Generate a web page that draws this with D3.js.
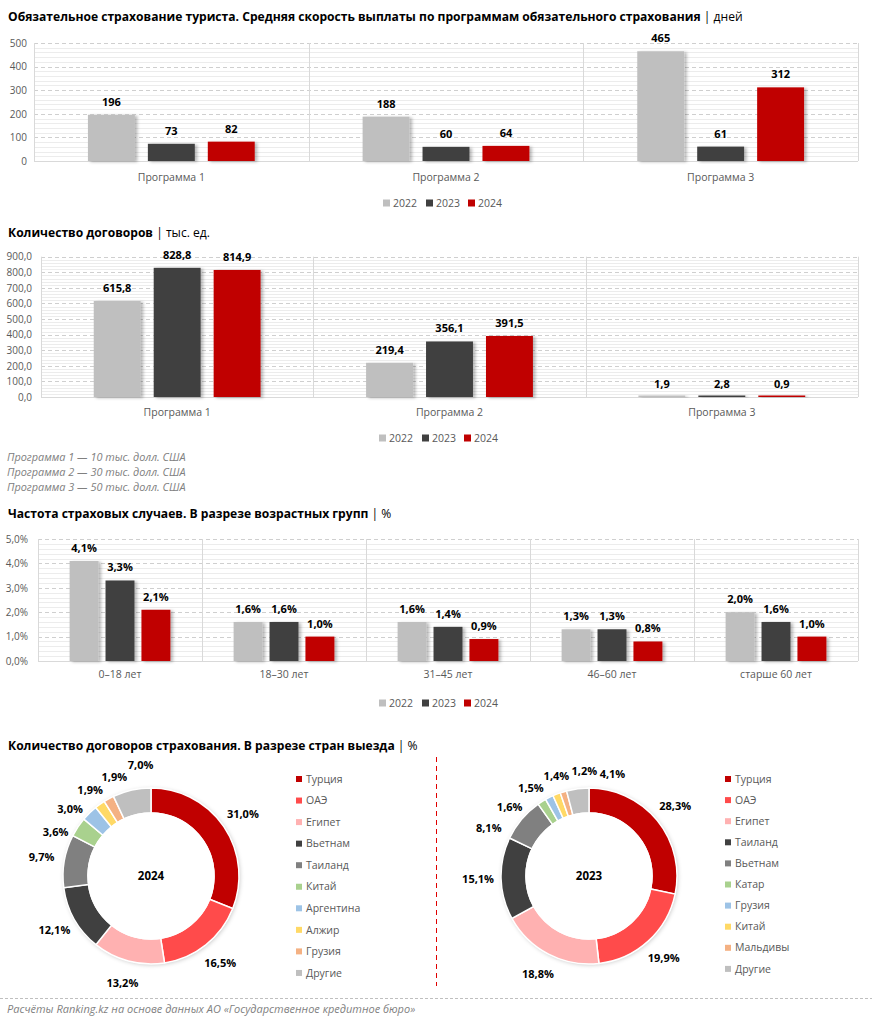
<!DOCTYPE html>
<html><head><meta charset="utf-8">
<script src="https://cdn.jsdelivr.net/npm/d3@7"></script>
<style>
body{margin:0;background:#fff;}
svg{display:block;}
text{font-family:"Open Sans","Noto Sans",sans-serif;}
</style></head>
<body>
<svg id="c" width="872" height="1023"></svg>
<script>
// ---------- DATA ----------
const years = ["2022","2023","2024"];
const programs = ["Программа 1","Программа 2","Программа 3"];
const speed2022 = [196,188,465];
const speed2023 = [73,60,61];
const speed2024 = [82,64,312];
const speedTicks = [0,100,200,300,400,500];

const contracts2022 = [615.8,219.4,1.9];
const contracts2023 = [828.8,356.1,2.8];
const contracts2024 = [814.9,391.5,0.9];
const contractTicks = [0,100,200,300,400,500,600,700,800,900];

const ageGroups = ["0–18 лет","18–30 лет","31–45 лет","46–60 лет","старше 60 лет"];
const freq2022 = [4.1,1.6,1.6,1.3,2.0];
const freq2023 = [3.3,1.6,1.4,1.3,1.6];
const freq2024 = [2.1,1.0,0.9,0.8,1.0];
const freqTicks = [0,1,2,3,4,5];

const notes = ["Программа 1 — 10 тыс. долл. США","Программа 2 — 30 тыс. долл. США","Программа 3 — 50 тыс. долл. США"];

const countries2024 = ["Турция","ОАЭ","Египет","Вьетнам","Таиланд","Китай","Аргентина","Алжир","Грузия","Другие"];
const shares2024 = [31.0,16.5,13.2,12.1,9.7,3.6,3.0,1.9,1.9,7.0];
const countries2023 = ["Турция","ОАЭ","Египет","Таиланд","Вьетнам","Катар","Грузия","Китай","Мальдивы","Другие"];
const shares2023 = [28.3,19.9,18.8,15.1,8.1,1.6,1.5,1.4,1.2,4.1];

const yearColors = ["#bfbfbf","#404040","#c00000"];
const sliceColors = ["#c00000","#ff4b4b","#ffb1b1","#404040","#808080","#a9d18e","#9dc3e6","#ffd966","#f4b183","#bfbfbf"];

// ---------- SETUP ----------
const ru = d3.formatLocale({decimal:",",thousands:"\u00a0",grouping:[3],currency:["","₽"]});
const f0 = ru.format("d"), f1 = ru.format(".1f");
const svg = d3.select("#c");
const defs = svg.append("defs");
const sh = defs.append("filter").attr("id","sh").attr("x","-20%").attr("y","-20%").attr("width","150%").attr("height","140%");
sh.append("feDropShadow").attr("dx",2.5).attr("dy",1).attr("stdDeviation",1.6).attr("flood-color","#000").attr("flood-opacity",0.28);
const sh2 = defs.append("filter").attr("id","sh2").attr("x","-20%").attr("y","-20%").attr("width","140%").attr("height","140%");
sh2.append("feDropShadow").attr("dx",1).attr("dy",1).attr("stdDeviation",2).attr("flood-color","#000").attr("flood-opacity",0.22);

function title(y, bold, normal){
  const t = svg.append("text").attr("x",8).attr("y",y).attr("font-size",12.1).attr("fill","#000");
  t.append("tspan").attr("font-weight","bold").text(bold);
  t.append("tspan").attr("font-weight","normal").text(normal);
}

function barChart(o){
  const g = svg.append("g");
  const x = d3.scaleBand().domain(o.cats).range([o.left,o.right]).padding(0);
  const xi = d3.scaleBand().domain(years).range([0,x.bandwidth()]).paddingInner(o.pi).paddingOuter(o.po);
  const y = d3.scaleLinear().domain([0,o.max]).range([o.bottom,o.top]);
  const step = o.ticks[1]-o.ticks[0];
  const minor = d3.range(0,o.max+1e-9,step/5).filter(v=>!o.ticks.some(t=>Math.abs(t-v)<1e-9));
  g.append("g").selectAll("line").data(minor).join("line")
    .attr("x1",o.left).attr("x2",o.right).attr("y1",d=>Math.round(y(d))+0.5).attr("y2",d=>Math.round(y(d))+0.5)
    .attr("stroke","#ececec").attr("stroke-width",1);
  g.append("g").selectAll("line").data(o.ticks.filter(t=>t>0)).join("line")
    .attr("x1",o.left).attr("x2",o.right).attr("y1",d=>Math.round(y(d))+0.5).attr("y2",d=>Math.round(y(d))+0.5)
    .attr("stroke","#cfcfcf").attr("stroke-dasharray","4,3");
  const bounds = o.cats.map(c=>x(c)).concat([o.right]);
  g.append("g").selectAll("line").data(bounds).join("line")
    .attr("x1",d=>Math.round(d)+0.5).attr("x2",d=>Math.round(d)+0.5).attr("y1",o.top).attr("y2",o.bottom)
    .attr("stroke","#d9d9d9");
  g.append("line").attr("x1",o.left).attr("x2",o.right).attr("y1",Math.round(o.bottom)+0.5).attr("y2",Math.round(o.bottom)+0.5).attr("stroke","#d9d9d9");
  const ay = g.append("g").attr("transform",`translate(${o.left},0)`)
    .call(d3.axisLeft(y).tickValues(o.ticks).tickSize(0).tickPadding(o.tp).tickFormat(o.tickFmt));
  ay.select(".domain").remove();
  ay.selectAll("text").attr("font-size",10).attr("fill","#595959").attr("font-family","'Open Sans',sans-serif");
  const ax = g.append("g").attr("transform",`translate(0,${o.bottom})`)
    .call(d3.axisBottom(x).tickSize(0).tickPadding(o.catPad));
  ax.select(".domain").remove();
  ax.selectAll("text").attr("font-size",10.5).attr("fill","#595959").attr("font-family","'Open Sans',sans-serif");
  o.series.forEach((vals,si)=>{
    const yr = years[si];
    const gg = g.append("g");
    gg.selectAll("rect").data(vals).join("rect")
      .attr("x",(d,i)=>x(o.cats[i])+xi(yr)).attr("width",xi.bandwidth())
      .attr("y",d=>Math.min(y(d),o.bottom-1.5)).attr("height",d=>Math.max(1.5,o.bottom-y(d)))
      .attr("fill",yearColors[si]).attr("filter","url(#sh)");
    gg.selectAll("text").data(vals).join("text")
      .attr("x",(d,i)=>x(o.cats[i])+xi(yr)+xi.bandwidth()/2)
      .attr("y",d=>y(d)-o.lblOff)
      .attr("text-anchor","middle").attr("font-size",11).attr("font-weight","bold").attr("fill","#000")
      .text(o.lblFmt);
  });
  const lg = g.append("g");
  years.forEach((yr,i)=>{
    lg.append("rect").attr("x",o.legX[i]).attr("y",o.legY-3.5).attr("width",7).attr("height",7).attr("fill",yearColors[i]);
    lg.append("text").attr("x",o.legX[i]+10).attr("y",o.legY).attr("dy","0.35em").attr("font-size",10.5).attr("fill","#595959").text(yr);
  });
}

// ---------- CHART 1 ----------
title(21,"Обязательное страхование туриста. Средняя скорость выплаты по программам обязательного страхования"," | дней");
barChart({cats:programs, series:[speed2022,speed2023,speed2024], ticks:speedTicks, max:500,
  left:34,right:858,top:43,bottom:161, pi:0.217, po:0.9, tp:7, catPad:13,
  tickFmt:f0, lblFmt:f0, lblOff:9, legX:[383,426,468], legY:203});

// ---------- CHART 2 ----------
title(237,"Количество договоров"," | тыс. ед.");
barChart({cats:programs, series:[contracts2022,contracts2023,contracts2024], ticks:contractTicks, max:900,
  left:41,right:858,top:256.7,bottom:397, pi:0.217, po:0.88, tp:9, catPad:12,
  tickFmt:f1, lblFmt:f1, lblOff:9, legX:[379,422,464], legY:438});
svg.append("g").selectAll("text").data(notes).join("text")
  .attr("x",7).attr("y",(d,i)=>457+i*15).attr("dy","0.35em")
  .attr("font-size",10.9).attr("font-style","italic").attr("fill","#808080").text(d=>d);

// ---------- CHART 3 ----------
title(518,"Частота страховых случаев. В разрезе возрастных групп"," | %");
barChart({cats:ageGroups, series:[freq2022,freq2023,freq2024], ticks:freqTicks, max:5,
  left:38,right:858,top:539,bottom:661, pi:0.194, po:0.88, tp:10, catPad:10,
  tickFmt:d=>f1(d)+"%", lblFmt:d=>f1(d)+"%", lblOff:9, legX:[379,422,464], legY:703});

// ---------- DONUTS ----------
title(750,"Количество договоров страхования. В разрезе стран выезда"," | %");
function donut(cx,cy,names,vals,yr,legX,legY,legStep,minSep){
  const g = svg.append("g").attr("transform",`translate(${cx},${cy})`);
  const pie = d3.pie().sort(null).value(d=>d)(vals);
  const arc = d3.arc().innerRadius(63).outerRadius(88);
  g.append("circle").attr("r",88).attr("fill","#fff").attr("filter","url(#sh2)");
  g.append("g").selectAll("path").data(pie).join("path")
    .attr("d",arc).attr("fill",(d,i)=>sliceColors[i]).attr("stroke","#fff").attr("stroke-width",1.5);
  g.append("circle").attr("r",63).attr("fill","none").attr("stroke","#fff").attr("stroke-width",1.5);
  const labs = pie.map((d,i)=>{
    let a = (d.startAngle+d.endAngle)/2*180/Math.PI;
    if (a>180) a-=360;
    return {i, a, v:d.data, r: d.data>=5 ? 111 : 105};
  }).sort((p,q)=>p.a-q.a);
  for (let it=0; it<400; it++){
    for (let k=0;k<labs.length-1;k++){
      const d = labs[k+1].a-labs[k].a;
      if (d<minSep){ const s=(minSep-d)/2; labs[k].a-=s; labs[k+1].a+=s; }
    }
  }
  g.append("g").selectAll("text").data(labs).join("text")
    .attr("x",d=>d.r*Math.sin(d.a*Math.PI/180)).attr("y",d=>-d.r*Math.cos(d.a*Math.PI/180))
    .attr("text-anchor","middle").attr("dy","0.35em")
    .attr("font-size",11).attr("font-weight","bold").attr("fill","#000").text(d=>f1(d.v)+"%");
  g.append("text").attr("text-anchor","middle").attr("dy","0.35em").attr("font-size",11.5).attr("font-weight","bold").text(yr);
  const lg = svg.append("g");
  names.forEach((n,i)=>{
    lg.append("rect").attr("x",legX).attr("y",legY+i*legStep-3).attr("width",6).attr("height",6).attr("fill",sliceColors[i]);
    lg.append("text").attr("x",legX+10).attr("y",legY+i*legStep).attr("dy","0.35em").attr("font-size",10.5).attr("fill","#595959").text(n);
  });
}
donut(151,876,countries2024,shares2024,"2024",296,779,21.55,15);
donut(589,876,countries2023,shares2023,"2023",725,779,21.1,15.5);

svg.append("line").attr("x1",436.5).attr("x2",436.5).attr("y1",757).attr("y2",986)
  .attr("stroke","#e00000").attr("stroke-dasharray","5,4").attr("stroke-width",1);
svg.append("line").attr("x1",0).attr("x2",872).attr("y1",998.5).attr("y2",998.5)
  .attr("stroke","#bfbfbf").attr("stroke-dasharray","3,2");
svg.append("text").attr("x",7).attr("y",1009).attr("dy","0.35em").attr("font-size",11)
  .attr("font-style","italic").attr("fill","#7f7f7f")
  .text("Расчёты Ranking.kz на основе данных АО «Государственное кредитное бюро»");
</script>
</body></html>
